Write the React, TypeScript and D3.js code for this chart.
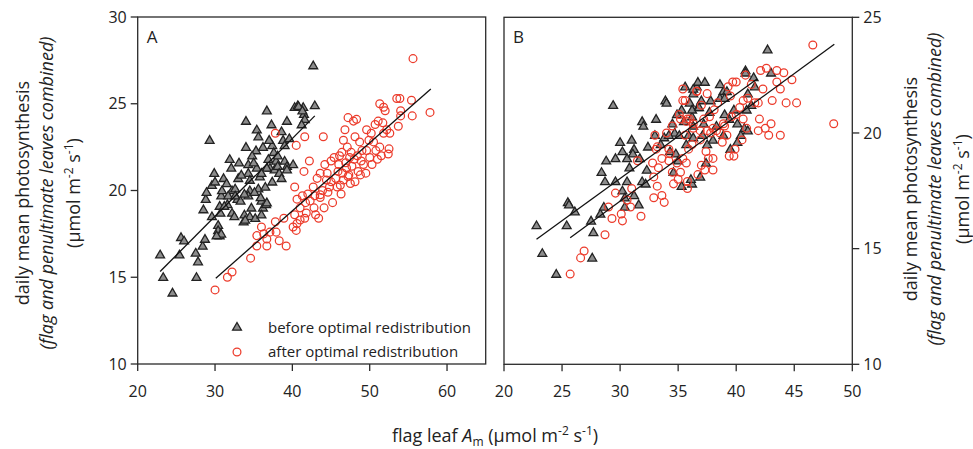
import React from 'react';
import * as d3 from 'd3';

type P = [number, number];

// Panel A – before optimal redistribution (triangles)
const aBefore: P[] = [
  [22.9,16.3],[23.3,15.0],[24.5,14.1],[25.6,17.3],[26.0,17.1],[25.4,16.3],[27.6,15.0],[27.8,15.9],[27.5,16.4],[28.4,16.8],
  [28.7,17.2],[29.3,22.9],[28.5,18.9],[28.8,19.5],[28.9,19.9],[29.6,20.3],[29.9,21.0],[30.0,20.5],[29.6,18.5],[30.4,18.0],
  [30.4,17.7],[30.6,17.4],[30.8,17.5],[30.6,19.1],[30.8,19.7],[30.9,20.0],[31.1,20.7],[31.9,21.8],[32.1,21.3],[32.2,20.0],
  [31.7,19.7],[31.6,19.2],[32.2,18.7],[30.7,18.7],[33.0,20.7],[33.1,21.6],[32.6,20.1],[32.9,19.5],[33.3,19.4],[33.7,18.2],
  [33.8,18.6],[34.0,22.5],[34.0,24.0],[34.3,21.5],[34.3,21.0],[34.5,20.0],[34.3,19.7],[34.7,19.0],[34.5,18.5],[35.4,23.5],
  [35.3,22.3],[35.6,23.1],[35.8,20.8],[35.6,20.1],[35.4,21.3],[36.2,22.5],[36.0,19.4],[36.2,19.0],[36.5,20.2],[36.7,24.6],
  [36.9,21.8],[37.1,21.3],[37.3,23.8],[37.4,22.6],[37.6,22.2],[37.9,21.7],[38.1,22.0],[37.7,21.2],[38.1,21.4],[36.6,19.2],
  [36.7,21.3],[38.6,23.4],[38.8,22.9],[39.0,22.6],[39.3,24.0],[39.0,21.7],[39.3,21.4],[40.1,21.5],[40.3,24.8],[40.7,24.9],
  [41.4,24.8],[41.5,24.4],[41.6,24.1],[41.2,23.8],[42.9,24.9],[38.3,21.0],[37.4,20.5],[33.4,20.9],[34.5,20.6],[31.2,19.1],
  [32.6,19.7],[33.8,19.8],[30.2,17.4],[42.7,27.2],[40.8,24.85],[41.3,24.6],[33.9,18.3],[35.2,18.4],[36.0,18.6],[36.7,19.3],
  [35.9,19.6],[35.1,19.9],[39.3,21.2],[38.6,20.7],[34.8,22.0],[36.0,21.0],[32.5,18.5],[35.0,21.6],[37.0,22.9],[39.6,23.0],
  [31.5,20.4]
];

// Panel A – after optimal redistribution (circles)
const aAfter: P[] = [
  [30.0,14.27],[31.6,15.0],[32.2,15.3],[34.6,16.1],[35.4,16.8],[35.4,17.4],[36.0,17.9],[36.7,16.8],[36.7,17.2],[37.1,17.6],
  [37.9,17.6],[37.8,18.2],[38.3,17.1],[37.8,23.3],[40.1,17.9],[40.5,17.7],[40.6,18.1],[40.3,18.6],[40.3,20.2],[40.6,19.5],
  [41.0,19.0],[41.3,19.7],[40.5,22.6],[41.6,23.1],[41.5,21.1],[42.2,21.7],[42.3,19.4],[42.8,19.0],[43.0,18.6],[43.4,18.4],
  [42.7,20.2],[43.6,19.6],[43.6,21.0],[44.0,23.1],[44.2,21.5],[44.4,20.6],[44.6,19.9],[45.0,21.7],[45.2,19.3],[45.6,20.7],
  [45.8,20.2],[46.0,21.5],[46.4,22.2],[46.6,22.9],[46.8,23.5],[46.6,20.6],[47.0,21.3],[47.4,21.9],[47.6,22.2],[47.9,24.0],
  [48.3,24.1],[48.1,23.1],[47.2,20.8],[48.1,20.5],[48.5,21.1],[48.9,21.7],[48.7,22.8],[49.6,23.5],[49.6,22.3],[50.0,21.9],
  [50.5,22.8],[50.7,23.8],[51.1,24.0],[51.3,22.5],[51.5,22.0],[51.8,23.3],[52.0,24.6],[51.3,25.0],[51.8,24.8],[52.2,23.5],
  [52.4,22.1],[52.6,23.3],[53.5,25.3],[53.9,25.3],[54.0,24.6],[54.0,24.3],[53.7,23.7],[55.4,25.2],[55.5,24.3],[55.6,27.6],
  [57.8,24.5],[45.4,21.9],[41.6,18.4],[41.8,18.7],[41.0,18.3],[36.3,17.5],[46.5,21.0],[46.9,21.6],[47.3,20.9],[47.7,21.4],
  [48.0,21.8],[48.4,22.0],[47.1,22.5],[46.2,20.3],[45.9,21.1],[47.5,20.4],[48.8,20.9],[49.2,21.5],[49.5,21.0],[50.3,21.5],
  [50.8,22.3],[49.0,22.3],[44.8,20.2],[43.9,20.0],[42.9,19.7],[42.0,19.8],[41.7,19.3],[44.1,19.0],[45.0,20.5],[46.3,19.8],
  [43.2,20.7],[49.9,22.9],[51.0,21.8],[52.5,22.4],[51.7,23.9],[46.1,22.0],[39.2,16.8],[38.9,18.4],[44.5,21.0],[47.2,24.2],
  [50.2,23.3],[43.6,19.75]
];

// Panel B – before optimal redistribution (triangles)
const bBefore: P[] = [
  [22.8,16.0],[23.3,14.8],[24.5,13.9],[25.5,17.0],[25.6,16.9],[26.1,16.6],[25.4,16.0],[27.6,14.6],[27.7,15.7],[27.5,16.2],
  [28.3,16.5],[28.6,16.8],[29.4,21.2],[28.4,18.3],[28.8,18.8],[28.7,17.9],[29.6,17.9],[29.6,18.9],[30.0,19.6],[30.2,19.2],
  [30.6,18.9],[30.8,18.5],[30.6,17.9],[30.2,17.5],[30.4,17.2],[30.4,16.8],[31.0,19.7],[31.2,19.3],[31.1,19.1],[31.7,18.9],
  [31.9,20.5],[32.0,20.3],[32.4,19.4],[33.1,20.6],[33.0,19.9],[32.3,18.4],[31.9,17.9],[32.2,17.8],[31.2,17.3],[31.6,16.9],
  [33.9,21.4],[34.0,21.3],[33.8,19.8],[34.3,19.2],[34.5,20.4],[34.7,20.0],[34.2,19.9],[35.3,21.0],[35.6,22.0],[35.1,19.9],
  [35.3,17.7],[36.0,21.3],[36.2,20.7],[36.3,20.3],[35.9,19.9],[35.7,19.5],[34.8,19.1],[34.6,18.3],[36.7,21.1],[36.3,21.7],
  [36.6,22.0],[36.2,17.8],[42.7,23.6],[40.8,22.7],[40.8,22.6],[41.5,22.4],[43.0,22.6],[41.6,22.0],[36.7,22.2],[37.3,22.2],
  [38.6,22.1],[38.9,21.8],[39.2,21.8],[36.3,21.9],[37.0,21.4],[37.8,21.4],[38.6,21.5],[39.0,21.5],[41.0,21.7],[41.3,21.2],
  [40.9,21.0],[36.2,21.0],[36.8,21.1],[39.4,20.6],[40.1,20.4],[40.7,20.2],[41.0,20.1],[40.4,19.9],[40.1,19.6],[37.1,19.9],
  [36.3,19.8],[37.5,19.5],[37.4,18.7],[36.9,18.1],[36.1,18.0],[39.0,20.8],[38.3,20.3],[38.9,19.9],[39.8,21.0],[34.9,20.8],
  [35.5,20.5],[37.7,20.9],[38.0,19.7],[39.5,19.3],[37.2,20.4],[33.5,19.5],[35.0,18.8]
];

// Panel B – after optimal redistribution (circles)
const bAfter: P[] = [
  [25.7,13.9],[26.6,14.6],[26.9,14.9],[28.7,15.6],[29.3,16.3],[29.0,16.8],[29.6,17.4],[30.2,16.2],[30.1,16.5],[30.9,16.8],
  [30.6,17.1],[31.0,17.6],[31.8,16.4],[32.9,17.2],[33.2,17.7],[33.8,17.0],[33.6,17.3],[33.1,19.3],[33.3,18.5],[34.2,18.8],
  [34.5,18.3],[35.0,18.0],[34.6,17.8],[35.4,21.9],[35.6,21.4],[36.6,21.8],[35.1,20.8],[34.5,20.3],[35.7,20.5],[36.0,20.6],
  [36.3,20.2],[35.7,18.7],[35.8,17.9],[34.9,18.7],[34.2,19.3],[33.6,18.9],[32.8,18.7],[32.9,18.1],[46.6,23.8],[48.4,20.4],
  [45.2,21.3],[44.8,22.3],[44.1,22.6],[43.5,22.7],[42.6,22.8],[42.1,22.7],[43.5,22.2],[43.8,21.9],[43.1,21.4],[41.9,21.3],
  [41.6,21.3],[42.0,20.6],[41.9,20.1],[42.5,20.2],[42.8,19.9],[43.8,19.9],[40.9,20.2],[40.6,20.6],[40.0,22.2],[39.7,22.2],
  [41.0,21.5],[40.6,21.4],[39.4,19.0],[39.9,19.3],[38.0,18.9],[37.6,18.9],[37.3,18.4],[38.0,18.4],[36.7,18.2],[35.8,17.6],
  [35.2,18.3],[35.4,18.9],[35.9,19.3],[38.0,20.2],[38.3,20.1],[38.6,20.0],[37.5,20.1],[37.8,20.0],[37.2,20.6],[38.9,20.4],
  [37.7,20.7],[38.1,21.0],[35.8,20.6],[36.3,20.4],[36.9,20.1],[36.6,21.8],[37.5,21.7],[39.5,21.6],[40.0,20.8],[40.5,19.7],
  [36.9,19.7],[35.6,19.9],[38.8,19.6],[39.2,19.9],[33.2,19.4],[34.3,19.1],[35.2,20.6],[35.4,21.4],[39.0,20.3],[39.6,20.7],
  [40.3,21.1],[38.4,21.3],[39.3,22.0],[37.0,21.2],[36.2,19.5],[37.4,19.2],[40.8,22.5],[41.3,22.1],[42.3,21.9],[44.3,21.3],
  [43.0,20.4],[39.8,19.0],[37.0,18.6],[34.0,20.0],[33.0,19.9],[31.5,18.8]
];

// regression fits: [intercept, slope, xStart, xEnd]
const fitsA: [number, number, number, number][] = [[5.06, 0.4485, 22.9, 42.9], [3.13, 0.3925, 30.1, 57.9]];
const fitsB: [number, number, number, number][] = [[7.08, 0.365, 22.8, 41.8], [6.03, 0.3675, 25.7, 48.45]];

const xTicksA = [20, 30, 40, 50, 60];
const yTicksA = [10, 15, 20, 25, 30];
const xTicksB = [20, 25, 30, 35, 40, 45, 50];
const yTicksB = [10, 15, 20, 25];

const legendLabels = ['before optimal redistribution', 'after optimal redistribution'];

const FONT = "'Open Sans', sans-serif";
const RED = '#ec3b2b';
const AX = '#2a2a2a';
const triPath = d3.symbol().type(d3.symbolTriangle).size(34)() as string;

function Tri({ x, y }: { x: number; y: number }) {
  return <path d={triPath} transform={`translate(${x},${y + 0.6})`} fill="#8c8c8c" stroke="#222" strokeWidth={1.3} />;
}
function Circ({ x, y }: { x: number; y: number }) {
  return <circle cx={x} cy={y} r={3.9} fill="none" stroke={RED} strokeWidth={1.25} />;
}

function Panel({ xs, ys, before, after, fits, xTicks, yTicks, side, label }: any) {
  const [x0, x1] = xs.range();
  const [y0, y1] = ys.range();
  const line = d3.line<P>().x(d => xs(d[0])).y(d => ys(d[1]));
  const axX = side === 'left' ? x0 : x1;
  const dir = side === 'left' ? -1 : 1;
  return (
    <g>
      {before.map((d: P, i: number) => <Tri key={'t' + i} x={xs(d[0])} y={ys(d[1])} />)}
      {after.map((d: P, i: number) => <Circ key={'c' + i} x={xs(d[0])} y={ys(d[1])} />)}
      {fits.map((f: number[], i: number) => (
        <path key={'f' + i} d={line([[f[2], f[0] + f[1] * f[2]], [f[3], f[0] + f[1] * f[3]]]) as string}
          stroke="#111" strokeWidth={1.3} fill="none" />
      ))}
      <rect x={x0} y={y1} width={x1 - x0} height={y0 - y1} fill="none" stroke={AX} strokeWidth={1.3} />
      {xTicks.map((t: number) => (
        <g key={'x' + t}>
          <line x1={xs(t)} x2={xs(t)} y1={y0} y2={y0 + 7} stroke={AX} strokeWidth={1.3} />
          <text x={xs(t)} y={397} textAnchor="middle" fontSize={16} fontFamily={FONT} fill="#222">{t}</text>
        </g>
      ))}
      {yTicks.map((t: number) => (
        <g key={'y' + t}>
          <line x1={axX} x2={axX + dir * 7} y1={ys(t)} y2={ys(t)} stroke={AX} strokeWidth={1.3} />
          <text x={axX + dir * 11} y={ys(t) + 5.6} textAnchor={side === 'left' ? 'end' : 'start'} fontSize={16} fontFamily={FONT} fill="#222">{t}</text>
        </g>
      ))}
      <text x={x0 + 9} y={43} fontSize={17} fontFamily={FONT} fill="#222">{label}</text>
    </g>
  );
}

function YTitle({ xs, cy }: { xs: number[]; cy: number }) {
  return (
    <g fontFamily={FONT} fontSize={18} fill="#222" textAnchor="middle">
      <text transform={`translate(${xs[0]},${cy}) rotate(-90)`}>daily mean photosynthesis</text>
      <text transform={`translate(${xs[1]},${cy}) rotate(-90)`} fontStyle="italic">(flag and penultimate leaves combined)</text>
      <text transform={`translate(${xs[2]},${cy}) rotate(-90)`}>
        (µmol m<tspan dy={-7} fontSize={12}>-2</tspan><tspan dy={7}> s</tspan><tspan dy={-7} fontSize={12}>-1</tspan><tspan dy={7}>)</tspan>
      </text>
    </g>
  );
}

export default function App() {
  const xA = d3.scaleLinear().domain([20, 65]).range([137.7, 485.7]);
  const yA = d3.scaleLinear().domain([10, 30]).range([364, 17]);
  const xB = d3.scaleLinear().domain([20, 50]).range([504, 852.3]);
  const yB = d3.scaleLinear().domain([10, 25]).range([364.3, 17.3]);
  return (
    <svg width={973} height={449} style={{ position: 'absolute', left: 0, top: 0, background: '#fff' }}>
      <rect width={973} height={449} fill="#fff" />
      <Panel xs={xA} ys={yA} before={aBefore} after={aAfter} fits={fitsA} xTicks={xTicksA} yTicks={yTicksA} side="left" label="A" />
      <Panel xs={xB} ys={yB} before={bBefore} after={bAfter} fits={fitsB} xTicks={xTicksB} yTicks={yTicksB} side="right" label="B" />
      <YTitle xs={[29, 53, 80]} cy={193} />
      <YTitle xs={[917, 940.5, 969]} cy={189} />
      <g fontFamily={FONT} fontSize={15} fill="#222">
        <Tri x={237} y={327} />
        <text x={268} y={333}>{legendLabels[0]}</text>
        <Circ x={237} y={352} />
        <text x={268} y={357}>{legendLabels[1]}</text>
      </g>
      <text x={495} y={442} textAnchor="middle" fontFamily={FONT} fontSize={18} fill="#222">
        flag leaf <tspan fontStyle="italic">A</tspan><tspan dy={4} fontSize={12}>m</tspan><tspan dy={-4}> (µmol m</tspan><tspan dy={-7} fontSize={12}>-2</tspan><tspan dy={7}> s</tspan><tspan dy={-7} fontSize={12}>-1</tspan><tspan dy={7}>)</tspan>
      </text>
    </svg>
  );
}
